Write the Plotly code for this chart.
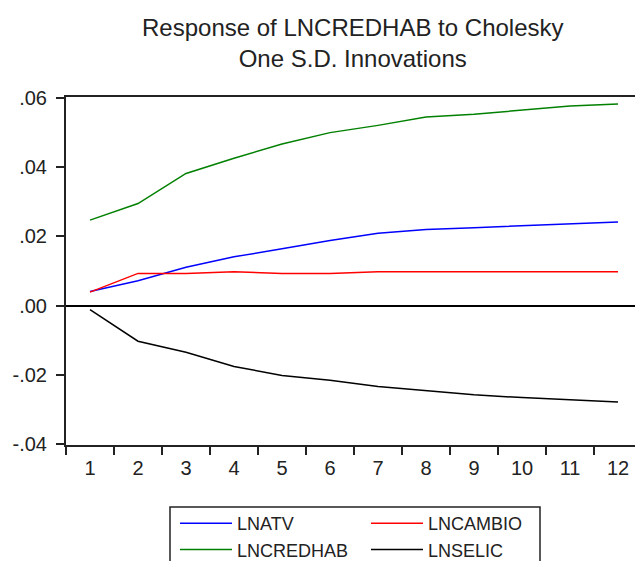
import plotly.graph_objects as go

periods = list(range(1, 13))
lnatv = [0.0041, 0.0072, 0.0111, 0.0141, 0.0164, 0.0188, 0.0209, 0.0220, 0.0225, 0.0231, 0.0236, 0.0242]
lncambio = [0.0039, 0.0093, 0.0093, 0.0098, 0.0093, 0.0093, 0.0098, 0.0098, 0.0098, 0.0098, 0.0098, 0.0098]
lncredhab = [0.0247, 0.0295, 0.0382, 0.0426, 0.0467, 0.0500, 0.0521, 0.0545, 0.0553, 0.0565, 0.0577, 0.0583]
lnselic = [-0.0012, -0.0103, -0.0135, -0.0176, -0.0202, -0.0216, -0.0234, -0.0247, -0.0258, -0.0266, -0.0272, -0.0279]

y_tickvals = [-0.04, -0.02, 0.0, 0.02, 0.04, 0.06]
y_ticktext = ["-.04", "-.02", ".00", ".02", ".04", ".06"]
x_ticktext = [str(p) for p in periods]
title_text = "Response of LNCREDHAB to Cholesky<br>One S.D. Innovations"

FONT = "Liberation Sans, Arial, sans-serif"
INK = "#222222"

# plot area in pixels
L, R, T, B = 66, 635, 97, 445
PW, PH = R - L, B - T

def px_x(p):
    return (p - L) / PW

def px_y(p):
    return (B - p) / PH

fig = go.Figure()
series = [
    ("LNATV", lnatv, "#0000FF", "legend"),
    ("LNCAMBIO", lncambio, "#FF0000", "legend2"),
    ("LNCREDHAB", lncredhab, "#008000", "legend"),
    ("LNSELIC", lnselic, "#000000", "legend2"),
]
for name, vals, col, lg in series:
    fig.add_trace(go.Scatter(x=periods, y=vals, name=name, mode="lines",
                             line=dict(color=col, width=1.5), legend=lg))

leg_common = dict(orientation="v", xanchor="left", yanchor="top",
                  borderwidth=0, bgcolor="rgba(0,0,0,0)",
                  font=dict(size=18, family=FONT, color=INK),
                  itemwidth=52, tracegroupgap=0)

fig.update_layout(
    template="none",
    width=635, height=561,
    margin=dict(l=L, r=635 - R, t=T, b=561 - B, pad=0, autoexpand=False),
    paper_bgcolor="white", plot_bgcolor="white",
    font=dict(family=FONT, color=INK),
    showlegend=True,
    legend=dict(x=px_x(175), y=px_y(505), **leg_common),
    legend2=dict(x=px_x(366), y=px_y(505), **leg_common),
    annotations=[dict(text=title_text, xref="paper", yref="paper",
                      x=px_x(353), y=px_y(43), xanchor="center", yanchor="middle",
                      showarrow=False, align="center",
                      font=dict(size=24, family=FONT, color=INK))],
    shapes=[dict(type="rect", xref="paper", yref="paper",
                 x0=px_x(170), x1=px_x(540), y0=px_y(575), y1=px_y(507),
                 line=dict(color=INK, width=1.5), fillcolor="rgba(0,0,0,0)", layer="above")],
)
fig.update_xaxes(
    range=[0.5, 0.5 + PW / 48], tickmode="array", tickvals=periods, ticktext=x_ticktext,
    ticks="", showgrid=False, zeroline=False, automargin=False,
    showline=True, linecolor=INK, linewidth=2, mirror=True,
    tickfont=dict(size=20, family=FONT, color=INK),
    ticklabelstandoff=4,
    minor=dict(tickmode="array", tickvals=[p - 0.5 for p in periods] + [12.5],
               ticks="outside", ticklen=8, tickcolor=INK, tickwidth=1.5, showgrid=False),
    fixedrange=True,
)
fig.update_yaxes(
    range=[-0.0403, 0.0603], tickmode="array", tickvals=y_tickvals, ticktext=y_ticktext,
    ticks="outside", ticklen=8, tickcolor=INK, tickwidth=1.5,
    showgrid=False, zeroline=True, zerolinecolor="#000000", zerolinewidth=1.5,
    showline=True, linecolor=INK, linewidth=2, mirror=False, automargin=False,
    tickfont=dict(size=20, family=FONT, color=INK),
    ticklabelstandoff=5,
    fixedrange=True,
)
fig.write_html("out.html", config={"displayModeBar": False},
               post_script="document.body.style.margin='0px';document.body.style.overflow='hidden';")
